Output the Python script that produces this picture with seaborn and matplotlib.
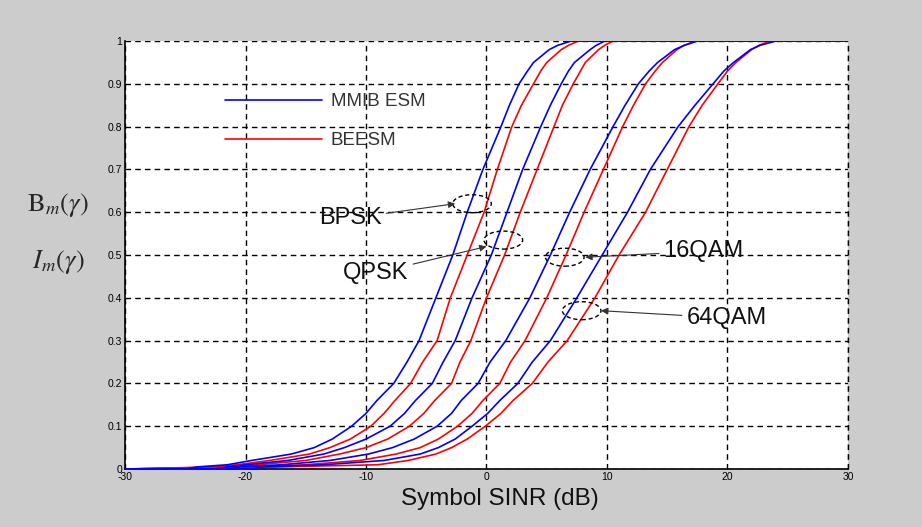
import matplotlib
matplotlib.use('Agg')
import matplotlib.pyplot as plt
from matplotlib.patches import Ellipse
from matplotlib.lines import Line2D
import seaborn as sns

# value levels shared by every curve
LEVELS = [0, 0, 0.005, 0.01, 0.02, 0.035, 0.05, 0.07, 0.1, 0.13, 0.16, 0.2, 0.25, 0.3,
          0.4, 0.5, 0.6, 0.7, 0.8, 0.85, 0.9, 0.93, 0.95, 0.98, 0.99, 1.0, 1.0]

# SINR (dB) where each curve reaches the level above
bpsk_mmib = [-30, -25, -24, -21.5, -19.5, -16.2, -14.3, -12.8, -11.2, -10.0, -9.1, -7.7, -6.6, -5.6,
             -4.2, -2.8, -1.6, -0.3, 1.2, 1.9, 2.7, 3.4, 3.9, 5.2, 5.9, 7.0, 30]
bpsk_beesm = [-30, -30, -22.5, -20.7, -18.0, -14.7, -13.0, -11.3, -9.6, -8.5, -7.6, -6.3, -5.3, -4.1,
              -3.0, -1.6, -0.2, 0.9, 2.1, 2.9, 3.9, 4.5, 5.0, 6.2, 6.8, 7.6, 30]
qpsk_mmib = [-30, -22.5, -21.5, -20.0, -16.5, -13.5, -11.8, -10.0, -8.0, -6.8, -5.9, -4.5, -3.6, -2.6,
             -1.2, 0.4, 1.7, 3.0, 4.5, 5.3, 6.2, 6.8, 7.3, 8.6, 9.1, 9.8, 30]
qpsk_beesm = [-30, -30, -21.0, -19.0, -15.0, -12.2, -10.0, -8.2, -6.4, -5.2, -4.3, -2.9, -2.2, -1.3,
              0.0, 1.5, 2.8, 4.2, 5.6, 6.3, 7.2, 7.8, 8.2, 9.3, 9.8, 10.5, 30]
qam16_mmib = [-30, -21.5, -20.5, -17.0, -13.0, -9.8, -7.8, -6.0, -4.1, -2.9, -2.1, -0.7, 0.3, 1.6,
              3.6, 5.3, 6.9, 8.6, 10.5, 11.5, 12.6, 13.5, 14.2, 15.6, 16.4, 17.5, 30]
qam16_beesm = [-30, -30, -19.5, -15.0, -10.5, -7.5, -5.5, -4.0, -2.4, -1.2, -0.3, 1.1, 2.0, 3.2,
               5.0, 6.6, 8.1, 9.7, 11.3, 12.2, 13.2, 14.0, 14.6, 15.8, 16.4, 17.3, 30]
qam64_mmib = [-30, -19.5, -18.5, -13.5, -8.5, -5.5, -4.0, -2.6, -1.2, 0.1, 1.1, 2.6, 3.8, 5.3,
              7.5, 9.6, 11.7, 13.6, 15.9, 17.3, 18.8, 19.7, 20.5, 21.9, 22.7, 24.0, 30]
qam64_beesm = [-30, -30, -17.0, -9.0, -6.5, -4.2, -2.9, -1.6, -0.1, 1.2, 2.2, 3.8, 5.1, 6.7,
               9.0, 11.0, 13.2, 15.0, 16.8, 17.9, 19.2, 20.0, 20.7, 22.0, 22.6, 23.5, 30]

mmib_curves = [bpsk_mmib, qpsk_mmib, qam16_mmib, qam64_mmib]
beesm_curves = [bpsk_beesm, qpsk_beesm, qam16_beesm, qam64_beesm]

x_ticks = [-30, -20, -10, 0, 10, 20, 30]
y_ticks = [0, 0.1, 0.2, 0.3, 0.4, 0.5, 0.6, 0.7, 0.8, 0.9, 1]
y_tick_labels = ['0', '0.1', '0.2', '0.3', '0.4', '0.5', '0.6', '0.7', '0.8', '0.9', '1']

# annotation labels and the dashed ellipses they point to
modulations = ['BPSK', 'QPSK', '16QAM', '64QAM']
ellipse_x = [-1.2, 1.4, 6.5, 7.9]
ellipse_y = [0.62, 0.535, 0.495, 0.37]

sns.set_style('white')
plt.rcParams['font.family'] = ['Liberation Sans', 'DejaVu Sans']
plt.rcParams['mathtext.fontset'] = 'stix'
plt.rcParams['axes.unicode_minus'] = False

fig = plt.figure(figsize=(9.22, 5.27), dpi=100, facecolor='#cccccc')
ax = fig.add_axes([0.1356, 0.110, 0.7841, 0.812])
ax.set_facecolor('white')

for sinr in beesm_curves:
    sns.lineplot(x=sinr, y=LEVELS, color='#ff0000', lw=1.2, sort=False,
                 estimator=None, ax=ax, zorder=3)
for sinr in mmib_curves:
    sns.lineplot(x=sinr, y=LEVELS, color='#0000ff', lw=1.2, sort=False,
                 estimator=None, ax=ax, zorder=3)

ax.set_xlim(-30, 30)
ax.set_ylim(0, 1)
ax.set_xticks(x_ticks)
ax.set_yticks(y_ticks)
ax.set_yticklabels(y_tick_labels)
ax.tick_params(direction='in', length=3, labelsize=7.5, pad=2, colors='black')
ax.grid(True, color='black', linestyle=(0, (4, 3)), linewidth=1.0)
ax.axvline(30, color='black', linestyle=(0, (4, 3)), linewidth=1.0, clip_on=False, zorder=1)
ax.set_axisbelow(True)
for side in ['top', 'right']:
    ax.spines[side].set_visible(False)
for side in ['left', 'bottom']:
    ax.spines[side].set_color('black')
    ax.spines[side].set_linewidth(1.2)

ax.set_xlabel('Symbol SINR (dB)', fontsize=17.5, color='#111111')
ax.xaxis.set_label_coords(0.519, -0.045)
ax.set_ylabel('')

handles = [Line2D([], [], color='#0000ff', lw=1.2), Line2D([], [], color='#ff0000', lw=1.2)]
leg = ax.legend(handles, ['MMIB ESM', 'BEESM'], loc='upper left', frameon=False,
                bbox_to_anchor=(0.125, 0.9), fontsize=13.5, handlelength=5.2,
                handletextpad=0.45, labelspacing=1.15, borderpad=0)
for t in leg.get_texts():
    t.set_color('#333333')

fig.text(0.063, 0.611, r'$\mathrm{B}_m(\gamma)$', fontsize=19, ha='center', va='center')
fig.text(0.063, 0.503, r'$I_m(\gamma)$', fontsize=19, ha='center', va='center')

text_pos = [(-13.9, 0.586), (-11.9, 0.458), (14.7, 0.509), (16.6, 0.353)]
arrow_tip = [(-2.6, 0.62), (0.0, 0.52), (8.2, 0.495), (9.5, 0.37)]
for name, ex, ey, tp, tip in zip(modulations, ellipse_x, ellipse_y, text_pos, arrow_tip):
    ax.add_patch(Ellipse((ex, ey), width=3.2, height=0.042, fill=False,
                         edgecolor='black', linestyle=(0, (3, 2)), lw=1.0, zorder=4))
    ax.annotate(name, xy=tip, xytext=tp, fontsize=17, color='#111111', ha='left', va='center',
                arrowprops=dict(arrowstyle='-|>', color='#333333', lw=0.8,
                                mutation_scale=10, shrinkA=1, shrinkB=0), zorder=5)

fig.savefig('out.png', dpi=100, facecolor=fig.get_facecolor())
